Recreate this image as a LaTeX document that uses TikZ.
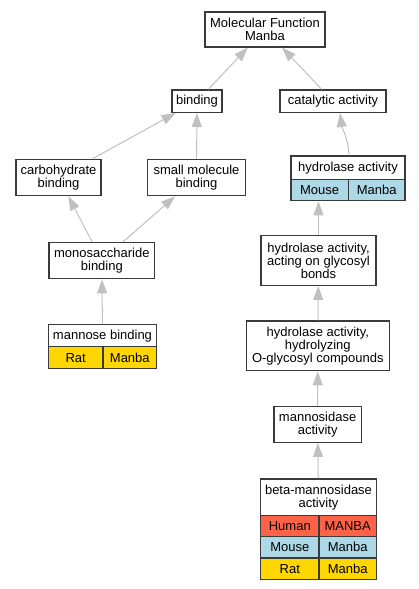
\documentclass[tikz,border=0pt]{standalone}
\usepackage{fontspec}
\setmainfont{Liberation Sans}
\usetikzlibrary{arrows.meta}
\definecolor{edgegray}{HTML}{C0C0C0}
\definecolor{boxline}{HTML}{3A3A3A}
\definecolor{human}{HTML}{FF6347}
\definecolor{mouse}{HTML}{ADD8E6}
\definecolor{rat}{HTML}{FFD700}
\begin{document}
\begin{tikzpicture}[x=1pt,y=-1pt,
  term/.style={draw=boxline, line width=1.3pt, fill=white, inner sep=0pt, align=center,
    font=\fontsize{13}{13}\selectfont},
  cell/.style={term, anchor=north west},
  edge/.style={draw=edgegray, line width=1pt, -{Triangle[length=14pt,width=10pt,color=edgegray]}}
]
\useasboundingbox (0,0) rectangle (419,589);
% plain terms
\node[term, minimum width=120pt, minimum height=35pt] (mf) at (265,29.5) {Molecular Function\\Manba};
\node[term, minimum width=50pt, minimum height=22.3pt] (binding) at (197,101.2) {binding};
\node[term, minimum width=106pt, minimum height=22.3pt] (catalytic) at (333,101.2) {catalytic activity};
\node[term, minimum width=85pt, minimum height=36.4pt] (carbo) at (58.5,177.5) {carbohydrate\\binding};
\node[term, minimum width=97.6pt, minimum height=36.4pt] (small) at (196.5,177.5) {small molecule\\binding};
\node[term, minimum width=105.7pt, minimum height=36.4pt] (mono) at (101.85,260.5) {monosaccharide\\binding};
\node[term, minimum width=115pt, minimum height=49.6pt] (acting) at (318.5,260.5) {hydrolase activity,\\acting on glycosyl\\bonds};
\node[term, minimum width=143pt, minimum height=49.7pt] (hydrolyzing) at (317.8,345.85) {hydrolase activity,\\hydrolyzing\\O-glycosyl compounds};
\node[term, minimum width=87.3pt, minimum height=35.6pt] (mannosidase) at (317.65,424.5) {mannosidase\\activity};
% hydrolase activity table
\node[cell, minimum width=114pt, minimum height=23.7pt] (hydT) at (290.3,155.3) {hydrolase activity};
\node[cell, fill=mouse, minimum width=57.4pt, minimum height=21pt] (hydM1) at (290.3,179) {Mouse};
\node[cell, fill=mouse, minimum width=56.6pt, minimum height=21pt] (hydM2) at (347.7,179) {Manba};
% mannose binding table
\node[cell, minimum width=108.3pt, minimum height=22pt] (mannT) at (47.7,324) {mannose binding};
\node[cell, fill=rat, minimum width=54.6pt, minimum height=22pt] (mannR1) at (47.7,346) {Rat};
\node[cell, fill=rat, minimum width=53.7pt, minimum height=22pt] (mannR2) at (102.3,346) {Manba};
% beta-mannosidase table
\node[cell, minimum width=115.7pt, minimum height=36.4pt] (betaT) at (260,478.3) {beta-mannosidase\\activity};
\node[cell, fill=human, minimum width=58.3pt, minimum height=21.3pt] (betaH1) at (260,514.7) {Human};
\node[cell, fill=human, minimum width=57.4pt, minimum height=21.3pt] (betaH2) at (318.3,514.7) {MANBA};
\node[cell, fill=mouse, minimum width=58.3pt, minimum height=21.3pt] (betaM1) at (260,536) {Mouse};
\node[cell, fill=mouse, minimum width=57.4pt, minimum height=21.3pt] (betaM2) at (318.3,536) {Manba};
\node[cell, fill=rat, minimum width=58.3pt, minimum height=21.4pt] (betaR1) at (260,557.3) {Rat};
\node[cell, fill=rat, minimum width=57.4pt, minimum height=21.4pt] (betaR2) at (318.3,557.3) {Manba};
% edges
\draw[edge] (binding) -- (mf);
\draw[edge] (catalytic) -- (mf);
\draw[edge] (carbo) -- (binding);
\draw[edge] (small) -- (binding);
\draw[edge] ([xshift=1pt]hydT.north) .. controls (348.3,138) and (342,128) .. ([xshift=7pt]catalytic.south);
\draw[edge] (mono) -- (carbo);
\draw[edge] (mono) -- (small);
\draw[edge] (mannT) -- (mono);
\draw[edge] (acting.north) -- (acting.north |- hydM1.south);
\draw[edge] (hydrolyzing) -- (acting);
\draw[edge] (mannosidase) -- (hydrolyzing);
\draw[edge] (betaT) -- (mannosidase);
\end{tikzpicture}
\end{document}
